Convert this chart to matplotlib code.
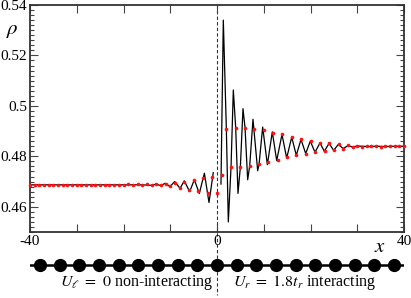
import matplotlib
matplotlib.use("Agg")
import matplotlib.pyplot as plt
import matplotlib.transforms as mtransforms
from matplotlib.ticker import FixedLocator, MultipleLocator, FixedFormatter

plt.rcParams['font.family'] = ['Liberation Serif', 'DejaVu Serif']
plt.rcParams['mathtext.fontset'] = 'stix'

# ---- data ----
site_x = list(range(-40, 41))
site_rho = [
    0.4687, 0.4688, 0.4686, 0.4688, 0.4687, 0.4688, 0.4686, 0.4688, 0.4687, 0.4688,   # -40..-31
    0.4686, 0.4688, 0.4687, 0.4688, 0.4686, 0.4688, 0.4687, 0.4688, 0.4686, 0.4688,   # -30..-21
    0.4686, 0.4689, 0.4686, 0.4689, 0.4686, 0.4689, 0.4685, 0.4690,                   # -20..-13
    0.4686, 0.4692, 0.4683, 0.4695, 0.4676, 0.4700, 0.4668, 0.4705, 0.4663, 0.4713,   # -12..-3
    0.4656, 0.4719, 0.4656,                                                           # -2..0
    0.4727, 0.4909, 0.4757, 0.4913, 0.4759, 0.4913, 0.4763, 0.4909, 0.4769, 0.4903,   # 1..10
    0.4776, 0.4893, 0.4787, 0.4887, 0.4796, 0.4876, 0.4807, 0.4867, 0.4811, 0.4860,   # 11..20
    0.4817, 0.4853, 0.4823, 0.4851, 0.4827, 0.4847, 0.4831, 0.4843, 0.4836, 0.4840,   # 21..30
    0.4838, 0.4840, 0.4839, 0.4840, 0.4838, 0.4840, 0.4839, 0.4840, 0.4839, 0.4840,   # 31..40
]

# extrema of the continuous (black) curve
left_x = [-40, -16, -14, -13, -12.1, -11.05, -10.05, -9.05, -7.9, -7.0, -5.85,
          -4.85, -3.78, -2.7, -1.71, -0.8]
left_rho = [0.4687, 0.4687, 0.4685, 0.4690, 0.4684, 0.4693, 0.4680, 0.4700, 0.4673,
            0.4703, 0.4660, 0.4707, 0.4653, 0.4733, 0.4617, 0.4735]

right_x = [0.85, 1.35, 2.42, 3.49, 4.49, 5.56, 6.56, 7.7, 8.7, 9.77, 10.77, 11.83,
           12.77, 13.9, 14.9, 15.98, 16.96, 17.97, 18.97, 19.96, 20.96, 22.03,
           22.95, 23.96, 24.96, 25.95, 27.0, 28.0, 29.0, 30.0, 32.0, 34.0, 36.0,
           38.0, 40.0]
right_rho = [0.4690, 0.5340, 0.4540, 0.5063, 0.4653, 0.4989, 0.4707, 0.4947, 0.4743,
             0.4916, 0.4767, 0.4897, 0.4783, 0.4887, 0.4793, 0.4876, 0.4804, 0.4867,
             0.4811, 0.4860, 0.4816, 0.4853, 0.4820, 0.4851, 0.4824, 0.4847, 0.4831,
             0.4842, 0.4837, 0.4841, 0.4839, 0.4840, 0.4839, 0.4840, 0.4840]

chain_n = 19
y_major = [0.46, 0.48, 0.50, 0.52, 0.54]
y_labels = ["0.46", "0.48", "0.5", "0.52", "0.54"]
x_major = [-40, -30, -20, -10, 0, 10, 20, 30, 40]
x_labels = ["-40", "", "", "", "0", "", "", "", "40"]

# the red site values lie on the black curve, so they are used as extra curve points
def merged(cx, cy, lo, hi):
    pts = list(zip(cx, cy))
    for sx, sy in zip(site_x, site_rho):
        if lo <= sx <= hi and all(abs(sx - p[0]) > 0.3 for p in pts):
            pts.append((sx, sy))
    pts.sort()
    return [p[0] for p in pts], [p[1] for p in pts]

lx, ly = merged(left_x, left_rho, -11, -1)
rx, ry = merged(right_x, right_rho, 2, 26)

# ---- figure ----
W, H = 411, 298
fig = plt.figure(figsize=(W / 100, H / 100), dpi=100)
ax = fig.add_axes([30 / W, 1 - 232 / H, 374 / W, 227 / H])

ax.plot(lx, ly, color='black', lw=0.9, zorder=2)
ax.plot(rx, ry, color='black', lw=0.9, zorder=2)
ax.plot(site_x, site_rho, linestyle='none', marker='o', ms=2.6, color='#ff1010',
        mec='none', zorder=3, clip_on=False)

ax.set_xlim(-40, 40)
ax.set_ylim(0.45, 0.54)
ax.xaxis.set_major_locator(FixedLocator(x_major))
ax.xaxis.set_major_formatter(FixedFormatter(x_labels))
ax.yaxis.set_major_locator(FixedLocator(y_major))
ax.yaxis.set_major_formatter(FixedFormatter(y_labels))
ax.yaxis.set_minor_locator(MultipleLocator(0.002))
ax.tick_params(which='both', direction='in', top=True, right=True,
               color='#444444', labelsize=11, width=0.8)
ax.tick_params(which='major', length=6)
ax.tick_params(which='minor', length=3)
ax.tick_params(axis='x', pad=2)
ax.tick_params(axis='y', pad=2)
for sp in ax.spines.values():
    sp.set_linewidth(1.3)
    sp.set_color('#333333')

ax.text(12 / W, 1 - 30 / H, r'$\rho$', transform=fig.transFigure, fontsize=15,
        ha='center', va='center')
ax.text(380 / W, 1 - 248 / H, r'$x$', transform=fig.transFigure, fontsize=15,
        ha='center', va='center')

# dashed line through whole figure at x=0
tr = mtransforms.blended_transform_factory(ax.transData, fig.transFigure)
ax.plot([0, 0], [1 - 5 / H, 1 - 295 / H], transform=tr, color='#333333', lw=0.8,
        ls=(0, (3, 2)), clip_on=False, zorder=1)

# chain schematic
ax2 = fig.add_axes([30 / W, 1 - 280 / H, 374 / W, 30 / H])
ax2.set_xlim(-40, 40)
ax2.set_ylim(0, 1)
ax2.axis('off')
spacing = 80 / chain_n
cx = [(k - (chain_n - 1) / 2) * spacing for k in range(chain_n)]
ax2.plot([-40, 40], [0.5, 0.5], color='black', lw=1.8, zorder=1)
ax2.plot(cx, [0.5] * chain_n, 'o', color='black', ms=8.5, zorder=2)

fig.text(137 / W, 1 - 283 / H, r'$U_\ell\ =\ 0$ non-interacting', fontsize=11.5,
         ha='center', va='center')
fig.text(305 / W, 1 - 283 / H, r'$U_r\ =\ 1.8t_r$ interacting', fontsize=11.5,
         ha='center', va='center')

fig.savefig('out.png', dpi=100)
